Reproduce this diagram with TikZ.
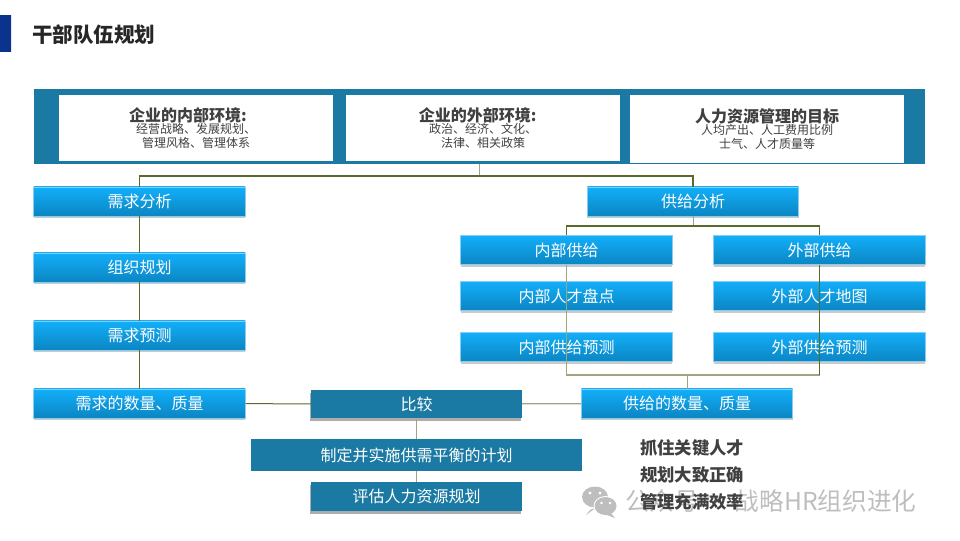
\documentclass[tikz,border=0pt]{standalone}
\usepackage{fontspec}
\setmainfont{Noto Sans CJK SC}
\usetikzlibrary{shadows}
\definecolor{panelblue}{HTML}{1A7AA3}
\definecolor{boxtop}{HTML}{12AFFA}
\definecolor{boxbottom}{HTML}{0B85C2}
\definecolor{boxedge}{HTML}{86CDF0}
\definecolor{linkdark}{HTML}{5A6A2C}
\definecolor{linklight}{HTML}{9CA683}
\definecolor{inktext}{HTML}{404040}
\definecolor{markgray}{HTML}{BEBEBE}
\tikzset{
  lanbox/.style={draw=boxedge, line width=0.6pt, top color=boxtop, bottom color=boxbottom, text=white,
    minimum width=158.5pt, minimum height=21.8pt, inner sep=0pt, font=\fontsize{12}{14}\selectfont,
    drop shadow={shadow xshift=0pt, shadow yshift=-1.6pt, opacity=0.35, fill=black!60}},
  shenbox/.style={fill=panelblue, text=white, minimum width=158pt, minimum height=21.4pt, inner sep=0pt,
    font=\fontsize{12}{14}\selectfont, drop shadow={shadow xshift=-0.6pt, shadow yshift=-2.2pt, opacity=1, fill=black!32}},
  baibox/.style={fill=white, inner sep=0pt, minimum width=205.5pt, text=inktext, align=center,
    font=\fontsize{9}{10.5}\selectfont},
  darklink/.style={draw=linkdark, line width=0.75pt},
  lightlink/.style={draw=linklight, line width=1.1pt}
}
\newcommand{\panelhead}[1]{{\fontsize{12}{14}\selectfont\bfseries #1}}
\begin{document}
\begin{tikzpicture}[x=0.75pt, y=-0.75pt]
  \useasboundingbox (0,0) rectangle (960,540);
  % title
  \fill[top color=panelblue!60!blue!70!black, bottom color=panelblue!60!blue!70!black] (0,15) rectangle (11,51);
  \node[anchor=west, inner sep=0pt, text=black!85, font=\fontsize{15.4}{18}\selectfont\bfseries] (titel) at (32,35) {干部队伍规划};
  % top panel
  \fill[panelblue] (34,89) rectangle (925,164);
  \node[baibox, minimum height=49.5pt] (neihuan) at (196,128) {\panelhead{企业的内部环境:\hspace*{12pt}}\\[-1.5pt]经营战略、发展规划、\\管理风格、管理体系};
  \node[baibox, minimum height=49.5pt] (waihuan) at (483,128) {\panelhead{企业的外部环境:\hspace*{8pt}}\\[-1.5pt]政治、经济、文化、\\法律、相关政策};
  \node[baibox, minimum height=51pt] (mubiao) at (767,129) {\panelhead{人力资源管理的目标}\\[-1.5pt]人均产出、人工费用比例\\士气、人才质量等};
  % watermark
  \fill[markgray] (595,497) ellipse (13 and 10.5);
  \fill[markgray] (590,510) -- (586,515) -- (597,507) -- cycle;
  \fill[white] (605.5,506) ellipse (12 and 10);
  \fill[markgray] (605.5,506) ellipse (11 and 9);
  \fill[markgray] (611,513) -- (615,518) -- (604,514) -- cycle;
  \fill[white] (590,493) circle (1.7) (600,493) circle (1.7) (601.5,503) circle (1.4) (610,503) circle (1.4);
  \node[anchor=west, inner sep=0pt, text=markgray, font=\fontsize{18.5}{22}\selectfont] (haoma) at (625,501) {公众号 · 战略HR组织进化};
  % left column
  \node[lanbox] (xuqiu) at (139.5,201.5) {需求分析};
  \node[lanbox] (zuzhi) at (139.5,267.5) {组织规划};
  \node[lanbox] (yuce) at (139.5,335.5) {需求预测};
  \node[lanbox] (xuliang) at (139.5,403.5) {需求的数量、质量};
  % right column
  \node[lanbox] (gongji) at (693,201.5) {供给分析};
  \node[lanbox] (neibu) at (566.5,250) {内部供给};
  \node[lanbox] (waibu) at (819.5,250) {外部供给};
  \node[lanbox] (neipan) at (566.5,296) {内部人才盘点};
  \node[lanbox] (waipan) at (819.5,296) {外部人才地图};
  \node[lanbox] (neice) at (566.5,347) {内部供给预测};
  \node[lanbox] (waice) at (819.5,347) {外部供给预测};
  \node[lanbox] (gongliang) at (687,403.5) {供给的数量、质量};
  % middle
  \node[shenbox] (bijiao) at (416.5,404) {比较};
  \node[fill=panelblue, text=white, minimum width=248.5pt, minimum height=24pt, inner sep=0pt, font=\fontsize{12}{14}\selectfont] (jihua) at (416.5,455) {制定并实施供需平衡的计划};
  \node[shenbox] (pingu) at (416.5,496.5) {评估人力资源规划};
  % connectors
  \coordinate (panelfoot) at (479,164);
  \coordinate (topbus) at (479,176);
  \coordinate (gongbus) at (693,226);
  \coordinate (dibus) at (687,375);
  \draw[lightlink, line width=0.6pt] (panelfoot) -- (topbus);
  \draw[darklink, line width=1pt] (xuqiu.north) |- (topbus) -| (gongji.north);
  \draw[darklink] (xuqiu) -- (zuzhi);
  \draw[darklink] (zuzhi) -- (yuce);
  \draw[darklink] (yuce) -- (xuliang);
  \draw[lightlink, line width=0.6pt] (gongji.south) -- (gongbus);
  \draw[darklink, line width=1pt] (neibu.north) |- (gongbus) -| (waibu.north);
  \draw[lightlink] (neibu.south) -- (neibu.south |- dibus) -- (waibu.south |- dibus);
  \draw[darklink, line width=1pt] (waibu.south) -- (waibu.south |- dibus);
  \draw[lightlink, line width=0.6pt] (dibus) -- (gongliang.north);
  \draw[darklink] (xuliang) -- (bijiao);
  \draw[lightlink, line width=0.9pt] (bijiao) -- (gongliang);
  \draw[lightlink] (bijiao) -- (jihua);
  \draw[lightlink] (jihua) -- (pingu);
  % notes
  \node[anchor=west, inner sep=0pt, text=inktext, font=\fontsize{13}{15}\selectfont\bfseries] (zhuazhu) at (640,448) {抓住关键人才};
  \node[anchor=west, inner sep=0pt, text=inktext, font=\fontsize{13}{15}\selectfont\bfseries] (dazhi) at (640,475) {规划大致正确};
  \node[anchor=west, inner sep=0pt, text=inktext, font=\fontsize{13}{15}\selectfont\bfseries] (xiaolv) at (640,501.5) {管理充满效率};
\end{tikzpicture}
\end{document}
